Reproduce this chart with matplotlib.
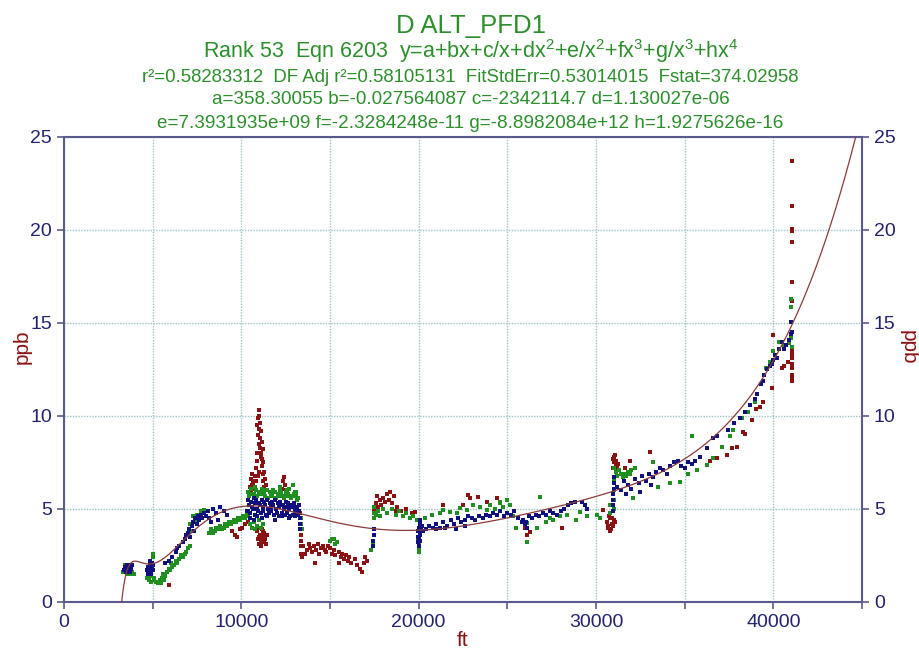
import numpy as np
import matplotlib
matplotlib.use("Agg")
import matplotlib.pyplot as plt

# fitted coefficients, y=a+bx+c/x+dx^2+e/x^2+fx^3+g/x^3+hx^4
coef_a = 358.30055
coef_b = -0.027564087
coef_c = -2342114.7
coef_d = 1.130027e-06
coef_e = 7.3931935e+09
coef_f = -2.3284248e-11
coef_g = -8.8982084e+12
coef_h = 1.9275626e-16

# measured points (ft, ppb) for the three channels
red_x = [5900, 9500, 9650, 9750, 9900, 10050, 10200, 10350,
         10500, 10550, 10600, 10650, 10700, 10750, 10550, 10600, 10700,
         10850, 10900, 10950, 10980, 11000, 11050, 11100, 11000, 11150, 11100,
         11200, 11250, 11300, 11200, 11350, 11400, 10900, 11050, 11150, 10950,
         11250, 11000, 10850, 11300, 10880, 10920, 11020, 11080, 11130, 11180,
         10900, 10950, 11000, 11050, 11100, 11150, 11200, 11250, 11300, 11350,
         11400, 11450, 10950, 11100, 11300, 11000, 11200,
         12300, 12350, 12400, 12450, 12500,
         13300, 13320, 13350, 13350, 13380, 13400, 13350,
         13500, 13700, 13800, 13900, 14000, 14100, 14200, 14300, 14400, 14500,
         14600, 14700, 14800, 14900, 15000, 15100, 15200, 15300, 15500, 15600,
         15700, 15800, 15900, 16000, 16100, 16200, 16400, 16500, 16700, 16800,
         16900, 17000, 17100, 14150, 13600, 15500,
         17500, 17600, 17700, 17800, 17900, 18000, 18100, 18200, 18300, 18400,
         18500, 18600, 18800, 18700, 19000, 19300, 19600, 19800, 17650,
         21400, 22500, 22900, 23350, 24400, 23850, 22800,
         26000, 26100, 26300, 28060, 30400,
         30600, 30700, 30800, 30900, 31000, 30650, 30750, 30850, 30950, 31050, 30800, 30900,
         30950, 31000, 31050, 31100, 31150, 31200, 31250, 31000, 31100, 31200, 30980, 31150,
         31640, 31900, 33050,
         36430, 36820, 37390, 37670, 37950, 38290, 38400, 38800, 39000, 39250,
         39420, 39920, 39980,
         41050, 41050, 41050, 41050, 41050, 41050, 41050, 41050, 41050, 41050,
         41050, 41050, 41050, 41050, 41050, 41050, 40600, 40800, 40500]
red_y = [0.9, 3.8, 3.6, 3.5, 3.9, 4.0, 4.2, 4.3,
         6.2, 6.6, 6.9, 6.4, 6.1, 6.8, 6.0, 6.3, 6.5,
         7.2, 8.0, 9.0, 10.3, 10.0, 9.6, 9.2, 8.5, 8.6, 7.8,
         8.2, 7.5, 7.0, 6.9, 6.6, 6.3, 7.6, 8.8, 7.3, 6.8,
         6.5, 7.0, 6.5, 6.2, 9.5, 9.9, 9.3, 8.3, 8.0, 7.7,
         3.8, 3.4, 3.1, 3.6, 3.3, 3.9, 3.2, 3.5, 3.7, 3.4,
         3.1, 3.6, 4.0, 3.0, 3.2, 3.5, 3.8,
         6.1, 6.5, 6.7, 6.3, 6.0,
         4.8, 4.2, 3.6, 3.0, 2.6, 2.4, 3.3,
         3.0, 2.8, 3.1, 2.9, 2.7, 3.0, 2.8, 3.1, 2.6, 2.9,
         3.0, 2.8, 2.7, 3.0, 2.9, 2.6, 2.8, 2.5, 2.7, 2.4,
         2.6, 2.3, 2.5, 2.2, 2.4, 2.1, 2.3, 2.0, 1.8, 1.6,
         2.1, 2.4, 2.2, 2.1, 2.6, 2.1,
         5.0, 5.3, 5.1, 5.5, 5.2, 5.6, 5.4, 5.8, 5.5, 5.9,
         5.3, 5.7, 5.1, 4.9, 4.9, 5.0, 4.8, 4.85, 5.7,
         5.2, 5.2, 5.6, 5.65, 5.6, 5.4, 5.75,
         4.0, 3.6, 3.75, 4.0, 4.95,
         4.3, 4.1, 4.5, 4.2, 4.4, 4.0, 4.6, 3.9, 4.1, 4.3, 3.8, 4.5,
         7.2, 7.5, 7.9, 7.3, 7.6, 7.1, 7.4, 7.8, 7.0, 7.3, 7.7, 7.5,
         7.2, 7.6, 8.05,
         7.6, 7.75, 7.9, 8.3, 8.35, 9.15, 9.05, 9.8, 10.4, 10.5,
         10.75, 11.5, 14.35,
         23.7, 21.3, 20.05, 19.95, 19.35, 17.2, 16.2, 13.7, 13.5, 13.3,
         13.1, 12.8, 12.6, 12.2, 12.0, 11.9, 12.7, 12.9, 12.6]

green_x = [3350, 3450, 3550, 3650, 3750, 3850, 3950, 3500,
           4700, 4750, 4800, 4850, 4900, 4950, 5000, 5000, 5050, 4900, 5100, 5200,
           5300, 5400, 5500, 5600, 5700, 5800, 5900, 6000, 6100, 6200, 6300, 6400,
           6500, 6600, 6700, 6800, 6900, 7000, 7100, 5450, 5650, 6050,
           7100, 7300, 7500, 7700, 7900, 7200, 7400,
           8200, 8300, 8400, 8500, 8600, 8700, 8800, 8900, 9000, 9100, 9200,
           9300, 9400, 9500, 9600, 9700, 9800, 9900, 10000, 10100, 10200, 10300, 10400,
           10400, 10550, 10700, 10850, 11000, 11150, 11300, 11450, 11600, 11750,
           11900, 12050, 12200, 12350, 12500, 12650, 12800, 12950, 13100, 13200,
           10450, 10600, 10750, 10900, 11050, 11200, 11350, 11500, 11650, 11800,
           11950, 12100, 12250, 12400, 12550, 12700, 12850, 13000, 13150,
           10500, 10600, 10700, 10800, 10900, 11000, 11100, 11200,
           12200, 12600, 12900, 13100,
           13350, 13350, 13400,
           15000, 15100, 15200, 15400, 15300,
           17300, 17400, 17450, 17500, 17500, 17500,
           17600, 17700, 17800, 18000, 18200, 18500, 18700, 18900, 19100, 19300,
           19500, 19700, 19900,
           20000, 20000, 20000, 19950,
           20360, 20750, 21200, 21400, 21770, 22160, 22330, 22720, 23060, 23460,
           23850, 24020, 24590, 24750, 24980, 24300, 24600, 25150,
           25300, 25500, 25800, 26100, 26100, 26660, 26840,
           27200, 27400, 27600, 27970, 28360, 28900, 29100, 29490, 30050, 30200,
           30800, 30800, 31000, 31000, 31000, 31000, 31000,
           31100, 31200, 31300, 31400, 31500, 31600, 31700, 31800, 31900, 32000, 32200,
           32100, 33200, 33500, 34200, 34730, 35400, 35200, 35700, 36260, 36600,
           37100, 37550, 37730, 38230, 38570, 38960,
           39600, 39800, 40000, 40300, 40600, 40900, 41000, 41050, 41000, 41000]
green_y = [1.6, 2.0, 1.5, 1.9, 1.5, 1.6, 1.5, 1.7,
           1.3, 1.5, 1.2, 1.4, 1.6, 2.0, 2.4, 2.6, 1.3, 1.1, 1.2, 1.1,
           1.0, 1.2, 1.3, 1.5, 1.4, 1.6, 1.8, 1.7, 1.9, 2.0, 2.2, 2.1,
           2.3, 2.5, 2.4, 2.6, 2.7, 2.9, 3.0, 1.0, 1.2, 2.1,
           4.2, 4.6, 4.7, 4.9, 4.95, 3.8, 4.4,
           3.7, 3.9, 3.7, 3.8, 4.0, 3.9, 4.1, 3.9, 4.0, 4.2, 4.1,
           4.3, 4.2, 4.3, 4.4, 4.3, 4.5, 4.4, 4.5, 4.6, 4.5, 4.7, 4.6,
           5.9, 6.1, 5.8, 6.0, 5.9, 6.1, 5.8, 6.0, 5.9, 5.7,
           5.9, 5.8, 6.0, 5.7, 5.9, 5.8, 5.6, 5.8, 5.7, 5.6,
           5.7, 5.8, 6.2, 5.7, 5.8, 6.0, 5.7, 5.6, 5.8, 6.0,
           5.6, 5.7, 5.9, 5.6, 5.7, 6.1, 5.7, 5.9, 5.5,
           4.2, 4.0, 4.3, 3.9, 4.1, 4.4, 4.0, 4.2,
           6.2, 6.0, 6.3, 5.9,
           4.5, 4.2, 3.9,
           3.3, 3.4, 3.4, 3.2, 3.1,
           2.8, 3.1, 3.3, 4.5, 4.8, 5.1,
           4.7, 4.9, 4.6, 5.0, 4.8, 5.0, 4.7, 4.9, 4.6, 4.8,
           4.5, 4.6, 4.4,
           2.7, 2.9, 3.1, 3.3,
           4.5, 4.7, 4.8, 4.95, 4.85, 4.8, 5.05, 4.95, 5.2, 5.1,
           4.95, 5.2, 5.4, 5.1, 5.5, 5.0, 5.3, 5.2,
           4.6, 4.0, 4.3, 4.25, 3.2, 4.0, 5.65,
           4.3, 4.5, 4.4, 4.6, 4.7, 4.4, 4.85, 4.6, 4.7, 4.5,
           4.8, 5.2, 5.0, 5.5, 6.0, 6.5, 7.2,
           7.0, 6.8, 7.1, 6.9, 6.7, 6.9, 6.8, 7.0, 6.9, 7.1, 7.2,
           5.6, 7.5, 6.2, 6.4, 6.45, 8.9, 6.9, 7.1, 7.35, 7.75,
           8.35, 8.9, 9.25, 9.9, 10.2, 10.75,
           12.6, 12.9, 13.5, 14.0, 13.8, 13.9, 14.2, 13.7, 15.85, 16.3]

blue_x = [3400, 3450, 3500, 3550, 3600, 3650, 3700, 3750, 3800, 3850, 3500, 3700,
          4700, 4750, 4800, 4850, 4900, 4950, 5000, 4750, 4850, 5000, 4900, 4950,
          5700, 5900, 6100, 6300, 6400, 6500, 6700, 6800, 6900, 7000, 7050, 7100,
          7200, 7300, 7350, 7400, 7500, 7550, 7600, 7700, 7800, 7900, 8000, 8100,
          8200, 8400, 8600, 8800, 9000, 8300, 8700, 9200,
          10400, 10550, 10700, 10850, 11000, 11150, 11300, 11450, 11600, 11750,
          11900, 12050, 12200, 12350, 12500, 12650, 12800, 12950, 13100, 13250,
          10450, 10600, 10750, 10900, 11050, 11200, 11350, 11500, 11650, 11800,
          11950, 12100, 12250, 12400, 12550, 12700, 12850, 13000, 13150, 13250,
          10400, 10500, 10650, 10800, 10950, 11100, 11250, 11400, 11550, 11700,
          11850, 12000, 12150, 12300, 12450, 12600, 12750, 12900, 13050, 13200,
          10500, 10700, 10900, 11150, 11450, 11900, 12300, 12700, 13000, 10300,
          13300, 13320, 13300,
          17450, 17450, 17480, 17480,
          19950, 20000, 20050, 19980, 20000, 20050, 20100, 20000, 20100, 20150,
          20200, 19950, 20050, 20250,
          20400, 20600, 20800, 21000, 21200, 21400, 21600, 21800, 22000, 22200,
          22400, 22600, 22800, 23000, 23200, 23400, 23600, 23800, 24000, 24200,
          24400, 24600, 24800, 25000, 25200, 25400, 25600, 25800, 26000, 26100,
          26200, 26400, 26600, 26800, 27000, 27200, 27400, 27600, 27800, 28000,
          28200, 28400, 28600, 28800, 29200, 29400, 29500,
          21000, 21500, 22100, 22600, 25900, 26050,
          30950, 30950, 30950, 30950, 31000, 31000, 31000,
          31200, 31400, 31600, 31800, 32000, 32200, 32400, 32600, 32800, 33000,
          33200, 33400, 33600, 33800, 34000, 34200, 34400, 34600, 34800, 35000,
          35200, 35400, 35600, 31700, 32500, 33100,
          35860, 36260, 36600, 36820, 37440, 37800, 38100, 38400, 38700, 38960,
          39100, 39300, 39420, 39500, 39640, 39800, 39920, 40000, 40100, 40300,
          40500, 40700, 40900, 41000, 41050, 41000, 40200, 40600]
blue_y = [1.7, 1.9, 1.6, 2.0, 1.8, 1.7, 2.0, 1.9, 1.8, 2.0, 1.8, 1.6,
          1.7, 1.9, 1.6, 2.0, 1.8, 2.1, 1.7, 1.5, 2.2, 2.0, 1.5, 1.9,
          2.1, 2.2, 2.4, 2.7, 2.9, 3.0, 3.2, 3.4, 3.6, 3.7, 3.9, 3.5,
          4.1, 4.3, 3.8, 4.5, 4.2, 4.6, 4.4, 4.7, 4.5, 4.8, 4.6, 4.9,
          4.5, 5.0, 4.8, 5.1, 4.9, 4.3, 4.4, 4.7,
          5.5, 5.4, 5.6, 5.5, 5.3, 5.5, 5.4, 5.5, 5.3, 5.4,
          5.5, 5.3, 5.4, 5.2, 5.4, 5.3, 5.2, 5.3, 5.1, 5.2,
          5.2, 5.1, 5.3, 5.0, 5.2, 5.1, 5.2, 5.0, 5.1, 5.2,
          5.0, 5.1, 5.2, 5.0, 5.1, 5.0, 5.1, 4.9, 5.0, 4.9,
          4.9, 4.8, 5.0, 4.7, 4.9, 4.8, 4.9, 4.7, 4.8, 4.9,
          4.7, 4.8, 4.6, 4.8, 4.7, 4.8, 4.6, 4.7, 4.8, 4.7,
          4.5, 4.4, 4.6, 4.5, 4.6, 4.4, 4.6, 4.5, 4.6, 4.9,
          4.5, 4.2, 3.9,
          3.0, 3.3, 3.6, 3.9,
          3.2, 3.4, 3.6, 3.8, 4.0, 4.2, 4.4, 3.0, 3.7, 3.9,
          4.1, 3.5, 3.3, 3.8,
          3.9, 4.1, 4.0, 4.2, 4.0, 4.3, 4.1, 4.4, 4.2, 4.5,
          4.3, 4.4, 4.6, 4.5, 4.4, 4.6, 4.5, 4.7, 4.6, 4.8,
          4.7, 4.9, 4.6, 4.8, 4.7, 4.9, 4.5, 4.3, 4.2, 4.0,
          4.6, 4.5, 4.7, 4.6, 4.8, 4.7, 4.9, 4.8, 4.7, 4.9,
          5.0, 5.2, 5.3, 5.4, 5.4, 5.2, 5.0,
          3.9, 4.0, 3.9, 4.1, 4.4, 4.3,
          4.9, 5.2, 5.5, 5.8, 6.1, 6.4, 6.7,
          6.2, 6.0, 6.5, 6.3, 6.1, 6.6, 6.4, 6.8, 6.5, 6.9,
          6.7, 7.0, 7.2, 7.1, 6.9, 7.3, 7.5, 7.6, 7.3, 7.2,
          7.5, 7.4, 7.6, 5.8, 5.9, 6.3,
          7.8, 8.3, 8.8, 8.9, 9.25, 9.6, 9.9, 10.2, 10.6, 10.9,
          11.2, 11.7, 11.9, 12.2, 12.5, 12.7, 12.8, 13.0, 13.3, 13.6,
          14.0, 13.8, 14.1, 14.4, 14.5, 15.05, 13.1, 13.6]

x_ticks = [0, 10000, 20000, 30000, 40000]
y_ticks = [0, 5, 10, 15, 20, 25]

title_lines = [
    "D ALT_PFD1",
    "Rank 53  Eqn 6203  y=a+bx+c/x+dx$^2$+e/x$^2$+fx$^3$+g/x$^3$+hx$^4$",
    "r\u00b2=0.58283312  DF Adj r\u00b2=0.58105131  FitStdErr=0.53014015  Fstat=374.02958",
    "a=358.30055 b=-0.027564087 c=-2342114.7 d=1.130027e-06",
    "e=7.3931935e+09 f=-2.3284248e-11 g=-8.8982084e+12 h=1.9275626e-16",
]

RED = "#8a1212"
GREEN = "#1f8f1f"
BLUE = "#10107e"
AXIS = "#5a5a8c"
TICK_TXT = "#22226e"
TITLE = "#2b8f2b"

plt.rcParams["font.family"] = ["Liberation Sans", "DejaVu Sans"]
plt.rcParams["mathtext.fontset"] = "custom"
plt.rcParams["mathtext.rm"] = "Liberation Sans"

fig = plt.figure(figsize=(9.19, 6.48), dpi=100)
ax = fig.add_axes([0.0696, 0.071, 0.8684, 0.7176])

for xv in range(0, 45001, 5000):
    ax.axvline(xv, color="#9cc4c4", lw=1.0, ls=(0, (1, 1)), zorder=0)
for yv in range(0, 26, 5):
    ax.axhline(yv, color="#9cc4c4", lw=1.0, ls=(0, (1, 1)), zorder=0)

ax.scatter(red_x, red_y, s=8, marker="s", color=RED, linewidths=0, zorder=2)
ax.scatter(green_x, green_y, s=8, marker="s", color=GREEN, linewidths=0, zorder=3)
ax.scatter(blue_x, blue_y, s=8, marker="s", color=BLUE, linewidths=0, zorder=4)

xf = np.linspace(3000, 45000, 2000)
yf = (coef_a + coef_b * xf + coef_c / xf + coef_d * xf**2 + coef_e / xf**2
      + coef_f * xf**3 + coef_g / xf**3 + coef_h * xf**4)
ax.plot(xf, yf, color="#8b3a3a", lw=0.9, zorder=5)

ax.set_xlim(0, 45000)
ax.set_ylim(0, 25)
ax.set_xticks(x_ticks)
ax.set_xticks(range(5000, 45001, 10000), minor=True)
ax.set_yticks(y_ticks)
ax.tick_params(axis="both", which="both", direction="out", color=AXIS,
               labelcolor=TICK_TXT, labelsize=14, length=5, width=1.2)
ax.tick_params(axis="y", right=True, labelright=True)
for sp in ax.spines.values():
    sp.set_color(AXIS)
    sp.set_linewidth(1.5)

ax.set_xlabel("ft", color=RED, fontsize=15, labelpad=0)
# side labels sit a little above the axes centre
fig.text(22 / 919, 1 - 347 / 648, "ppb", color=RED, fontsize=15, rotation=90,
         ha="center", va="center")
fig.text(908 / 919, 1 - 347 / 648, "ppb", color=RED, fontsize=15, rotation=270,
         ha="center", va="center")

sizes = [18.5, 15.5, 13.4, 13.6, 13.6]
ys = [26, 51, 77, 100, 123]
for line, fs, yp in zip(title_lines, sizes, ys):
    fig.text(0.512, 1 - yp / 648, line, color=TITLE, fontsize=fs,
             ha="center", va="center")

fig.savefig("out.png", dpi=100)
